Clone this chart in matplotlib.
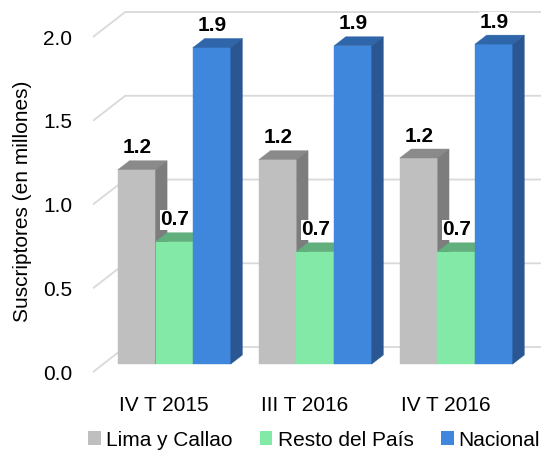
import matplotlib
matplotlib.use("Agg")
import matplotlib.pyplot as plt
from matplotlib.patches import Polygon, Patch

plt.rcParams["font.family"] = ["Liberation Sans", "DejaVu Sans"]

# ====================== DATA ======================

periods = ["IV T 2015", "III T 2016", "IV T 2016"]
series = ["Lima y Callao", "Resto del País", "Nacional"]
lima = [1.16, 1.22, 1.23]
resto = [0.73, 0.67, 0.67]
nacional = [1.89, 1.90, 1.91]
labels = {
    "Lima y Callao": ["1.2", "1.2", "1.2"],
    "Resto del País": ["0.7", "0.7", "0.7"],
    "Nacional": ["1.9", "1.9", "1.9"],
}
yticks = [0.0, 0.5, 1.0, 1.5, 2.0]

# front / top / side colours for each series
colors = {
    "Lima y Callao": ("#BFBFBF", "#8A8A8A", "#7D7D7D"),
    "Resto del País": ("#82E9A7", "#62AF7E", "#5A9E72"),
    "Nacional": ("#3F86DD", "#2F66AA", "#2A5791"),
}

# ====================== 3D GEOMETRY ======================

DX = 0.228   # depth shift in category units
DY = 0.149   # depth shift in value units
BW = 0.267   # bar width
D0, D1 = 0.32, 0.68
XMIN, XMAX = -0.504, 2.674
YMIN, YMAX = 0.0, 2.221
GRID = "#D9D9D9"
FS = 15


def pt(x, v, d):
    return (x + d * DX, v + d * DY)


fig = plt.figure(figsize=(5.41, 4.51), dpi=100, facecolor="white")
ax = fig.add_axes([93 / 541, 79 / 451, 1 - 93 / 541, 372 / 451])
ax.set_xlim(XMIN, XMAX)
ax.set_ylim(YMIN, YMAX)
for s in ax.spines.values():
    s.set_visible(False)

# walls / gridlines
for v in yticks:
    x0, y0 = pt(XMIN, v, 0)
    x1, y1 = pt(XMIN, v, 1)
    ax.plot([x0, x1, XMAX], [y0, y1, y1], color=GRID, lw=1.3,
            clip_on=False, zorder=1, solid_capstyle="butt")

# bars
values = [lima, resto, nacional]
for i, name in enumerate(series):
    front, top, side = colors[name]
    for j, v in enumerate(values[i]):
        xl = j + (i - 1.5) * BW
        xr = xl + BW
        z = 2 + j * 3 + i
        faces = [
            ([pt(xl, 0, D0), pt(xr, 0, D0), pt(xr, v, D0), pt(xl, v, D0)], front),
            ([pt(xl, v, D0), pt(xr, v, D0), pt(xr, v, D1), pt(xl, v, D1)], top),
            ([pt(xr, 0, D0), pt(xr, 0, D1), pt(xr, v, D1), pt(xr, v, D0)], side),
        ]
        for verts, c in faces:
            ax.add_patch(Polygon(verts, closed=True, fc=c, ec=c, lw=0.3,
                                 zorder=z, clip_on=False))
        lx = pt(xl + BW / 2, v, D0)[0] + 0.005
        ly = pt(xl, v, D1)[1]
        ax.annotate(labels[name][j], xy=(lx, ly),
                    xytext=(0, 5.4), textcoords="offset points",
                    ha="center", va="baseline", fontsize=FS,
                    fontweight="bold", zorder=20,
                    bbox=dict(fc="white", ec="none", pad=0.5))

# axes text
ax.set_yticks(yticks)
ax.set_yticklabels([f"{t:.1f}" for t in yticks], fontsize=FS)
ax.set_xticks(range(len(periods)))
ax.set_xticklabels(periods, fontsize=FS)
ax.tick_params(axis="y", length=0, pad=15)
ax.tick_params(axis="x", length=0, pad=17)
fig.text(23 / 541, 1 - 201 / 451, "Suscriptores (en millones)",
         rotation=90, ha="center", va="center", fontsize=FS)

handles = [Patch(fc=colors[n][0], ec="none", label=n) for n in series]
fig.legend(handles=handles, loc="center", ncol=3, frameon=False,
           bbox_to_anchor=(314 / 541, 11 / 451), fontsize=FS,
           handlelength=0.62, handleheight=0.68, handletextpad=0.25,
           columnspacing=1.3, borderpad=0, borderaxespad=0)

fig.savefig("out.png", dpi=100, facecolor="white")
